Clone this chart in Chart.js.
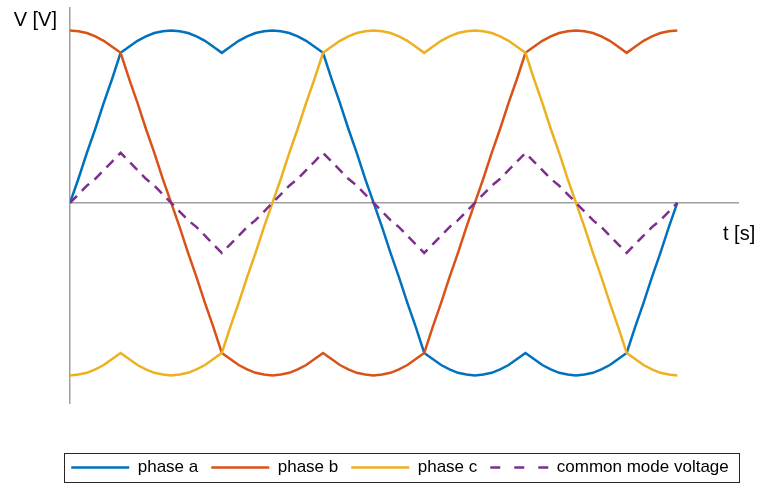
<!DOCTYPE html>
<html>
<head>
<meta charset="utf-8">
<script src="https://cdn.jsdelivr.net/npm/chart.js@4.4.1/dist/chart.umd.min.js"></script>
<style>
  html, body { margin: 0; padding: 0; background: #fff; }
</style>
</head>
<body>
<canvas id="phaseChart" width="760" height="484"></canvas>
<script>
// electrical angle of each sample (deg), one full period
const angle = [
	0, 5, 10, 15, 20, 25, 30,
	35, 40, 45, 50, 55, 60, 65, 70, 75, 80, 85, 90,
	95, 100, 105, 110, 115, 120, 125, 130, 135, 140, 145, 150,
	155, 160, 165, 170, 175, 180, 185, 190, 195, 200, 205, 210,
	215, 220, 225, 230, 235, 240, 245, 250, 255, 260, 265, 270,
	275, 280, 285, 290, 295, 300, 305, 310, 315, 320, 325, 330,
	335, 340, 345, 350, 355, 360,
];

const phaseA = [
	0, 0.14, 0.29, 0.43, 0.58, 0.72, 0.87,
	0.905, 0.94, 0.965, 0.985, 0.995, 1.0, 0.995, 0.985, 0.965, 0.94, 0.905, 0.87,
	0.905, 0.94, 0.965, 0.985, 0.995, 1.0, 0.995, 0.985, 0.965, 0.94, 0.905, 0.87,
	0.72, 0.58, 0.43, 0.29, 0.14, 0, -0.14, -0.29, -0.43, -0.58, -0.72, -0.87,
	-0.905, -0.94, -0.965, -0.985, -0.995, -1.0, -0.995, -0.985, -0.965, -0.94, -0.905, -0.87,
	-0.905, -0.94, -0.965, -0.985, -0.995, -1.0, -0.995, -0.985, -0.965, -0.94, -0.905, -0.87,
	-0.72, -0.58, -0.43, -0.29, -0.14, 0,
];

const phaseB = [
	1.0, 0.995, 0.985, 0.965, 0.94, 0.905, 0.87,
	0.72, 0.58, 0.43, 0.29, 0.14, 0, -0.14, -0.29, -0.43, -0.58, -0.72, -0.87,
	-0.905, -0.94, -0.965, -0.985, -0.995, -1.0, -0.995, -0.985, -0.965, -0.94, -0.905, -0.87,
	-0.905, -0.94, -0.965, -0.985, -0.995, -1.0, -0.995, -0.985, -0.965, -0.94, -0.905, -0.87,
	-0.72, -0.58, -0.43, -0.29, -0.14, 0, 0.14, 0.29, 0.43, 0.58, 0.72, 0.87,
	0.905, 0.94, 0.965, 0.985, 0.995, 1.0, 0.995, 0.985, 0.965, 0.94, 0.905, 0.87,
	0.905, 0.94, 0.965, 0.985, 0.995, 1.0,
];

const phaseC = [
	-1.0, -0.995, -0.985, -0.965, -0.94, -0.905, -0.87,
	-0.905, -0.94, -0.965, -0.985, -0.995, -1.0, -0.995, -0.985, -0.965, -0.94, -0.905, -0.87,
	-0.72, -0.58, -0.43, -0.29, -0.14, 0, 0.14, 0.29, 0.43, 0.58, 0.72, 0.87,
	0.905, 0.94, 0.965, 0.985, 0.995, 1.0, 0.995, 0.985, 0.965, 0.94, 0.905, 0.87,
	0.905, 0.94, 0.965, 0.985, 0.995, 1.0, 0.995, 0.985, 0.965, 0.94, 0.905, 0.87,
	0.72, 0.58, 0.43, 0.29, 0.14, 0, -0.14, -0.29, -0.43, -0.58, -0.72, -0.87,
	-0.905, -0.94, -0.965, -0.985, -0.995, -1.0,
];

const commonMode = [
	0, 0.05, 0.1, 0.14, 0.19, 0.24, 0.29,
	0.24, 0.19, 0.14, 0.1, 0.05, 0, -0.05, -0.1, -0.14, -0.19, -0.24, -0.29,
	-0.24, -0.19, -0.14, -0.1, -0.05, 0, 0.05, 0.1, 0.14, 0.19, 0.24, 0.29,
	0.24, 0.19, 0.14, 0.1, 0.05, 0, -0.05, -0.1, -0.14, -0.19, -0.24, -0.29,
	-0.24, -0.19, -0.14, -0.1, -0.05, 0, 0.05, 0.1, 0.14, 0.19, 0.24, 0.29,
	0.24, 0.19, 0.14, 0.1, 0.05, 0, -0.05, -0.1, -0.14, -0.19, -0.24, -0.29,
	-0.24, -0.19, -0.14, -0.1, -0.05, 0,
];

const seriesLabels = ["phase a", "phase b", "phase c", "common mode voltage"];

Chart.defaults.font.family = "'Liberation Sans', Arial, sans-serif";
Chart.defaults.color = "#000";

const toPoints = (ys) => angle.map((t, i) => ({ x: t, y: ys[i] }));

// axis names next to the axis ends + frame round the legend
const axisLabels = {
	id: "axisLabels",
	afterDraw(chart) {
		const { ctx, chartArea, scales } = chart;
		const zeroY = scales.y.getPixelForValue(0);
		ctx.save();
		ctx.font = "20px 'Liberation Sans', Arial, sans-serif";
		ctx.fillStyle = "#000";
		ctx.textBaseline = "middle";
		ctx.textAlign = "right";
		ctx.fillText("V [V]", chartArea.left - 13, chartArea.top + 12);
		ctx.textAlign = "left";
		ctx.fillText("t [s]", chartArea.right - 15, zeroY + 32);

		const boxes = chart.legend.legendHitBoxes;
		if (boxes && boxes.length) {
			const first = boxes[0];
			const last = boxes[boxes.length - 1];
			const left = Math.round(first.left - 7) + 0.5;
			const right = Math.round(last.left + last.width + 10) + 0.5;
			const midY = first.top + first.height / 2;
			const top = Math.round(midY - 14.5) + 0.5;
			ctx.strokeStyle = "#262626";
			ctx.lineWidth = 1;
			ctx.strokeRect(left, top, right - left, 29);
		}
		ctx.restore();
	},
};

new Chart("phaseChart", {
	type: "line",
	data: {
		datasets: [
			{
				label: seriesLabels[0],
				data: toPoints(phaseA),
				borderColor: "#0072BD",
				backgroundColor: "#0072BD",
				borderWidth: 2.5,
				order: 3,
			},
			{
				label: seriesLabels[1],
				data: toPoints(phaseB),
				borderColor: "#D95319",
				backgroundColor: "#D95319",
				borderWidth: 2.5,
				order: 2,
			},
			{
				label: seriesLabels[2],
				data: toPoints(phaseC),
				borderColor: "#EDB120",
				backgroundColor: "#EDB120",
				borderWidth: 2.5,
				order: 1,
			},
			{
				label: seriesLabels[3],
				data: toPoints(commonMode),
				borderColor: "#7E2F8E",
				backgroundColor: "#7E2F8E",
				borderWidth: 2.5,
				borderDash: [10, 7],
				order: 0,
			},
		],
	},
	options: {
		responsive: false,
		animation: false,
		layout: { padding: { left: 40, right: 0, top: 8, bottom: -2 } },
		elements: {
			point: { radius: 0, hoverRadius: 0 },
			line: { tension: 0, fill: false },
		},
		scales: {
			x: {
				type: "linear",
				min: 0,
				max: 396,
				position: { y: 0 },
				ticks: { display: false },
				grid: { display: false, drawTicks: false },
				border: { display: true, color: "#a0a0a0", width: 1.5 },
			},
			pad: {
				type: "linear",
				position: "bottom",
				ticks: { display: false },
				grid: { display: false, drawTicks: false },
				border: { display: false },
				afterFit(scale) {
					scale.height = 43;
				},
			},
			y: {
				type: "linear",
				min: -1.16,
				max: 1.13,
				position: "left",
				ticks: { display: false },
				grid: { display: false, drawTicks: false },
				border: { display: true, color: "#a0a0a0", width: 1.5 },
				afterFit(scale) {
					scale.width = 30;
				},
			},
			padRight: {
				type: "linear",
				position: "right",
				ticks: { display: false },
				grid: { display: false, drawTicks: false },
				border: { display: false },
				afterFit(scale) {
					scale.width = 22;
				},
			},
		},
		plugins: {
			tooltip: { enabled: false },
			legend: {
				position: "bottom",
				labels: {
					usePointStyle: true,
					pointStyle: "line",
					pointStyleWidth: 58,
					boxHeight: 17,
					padding: 13,
					color: "#000",
					font: { size: 17 },
					sort: (a, b) => a.datasetIndex - b.datasetIndex,
					generateLabels(chart) {
						const items = Chart.defaults.plugins.legend.labels.generateLabels(chart);
						items.forEach((item) => {
							const ds = chart.data.datasets[item.datasetIndex];
							item.lineWidth = ds.borderWidth;
							item.lineDash = ds.borderDash ? [10, 14] : [];
						});
						return items;
					},
				},
			},
		},
	},
	plugins: [axisLabels],
});
</script>
</body>
</html>
